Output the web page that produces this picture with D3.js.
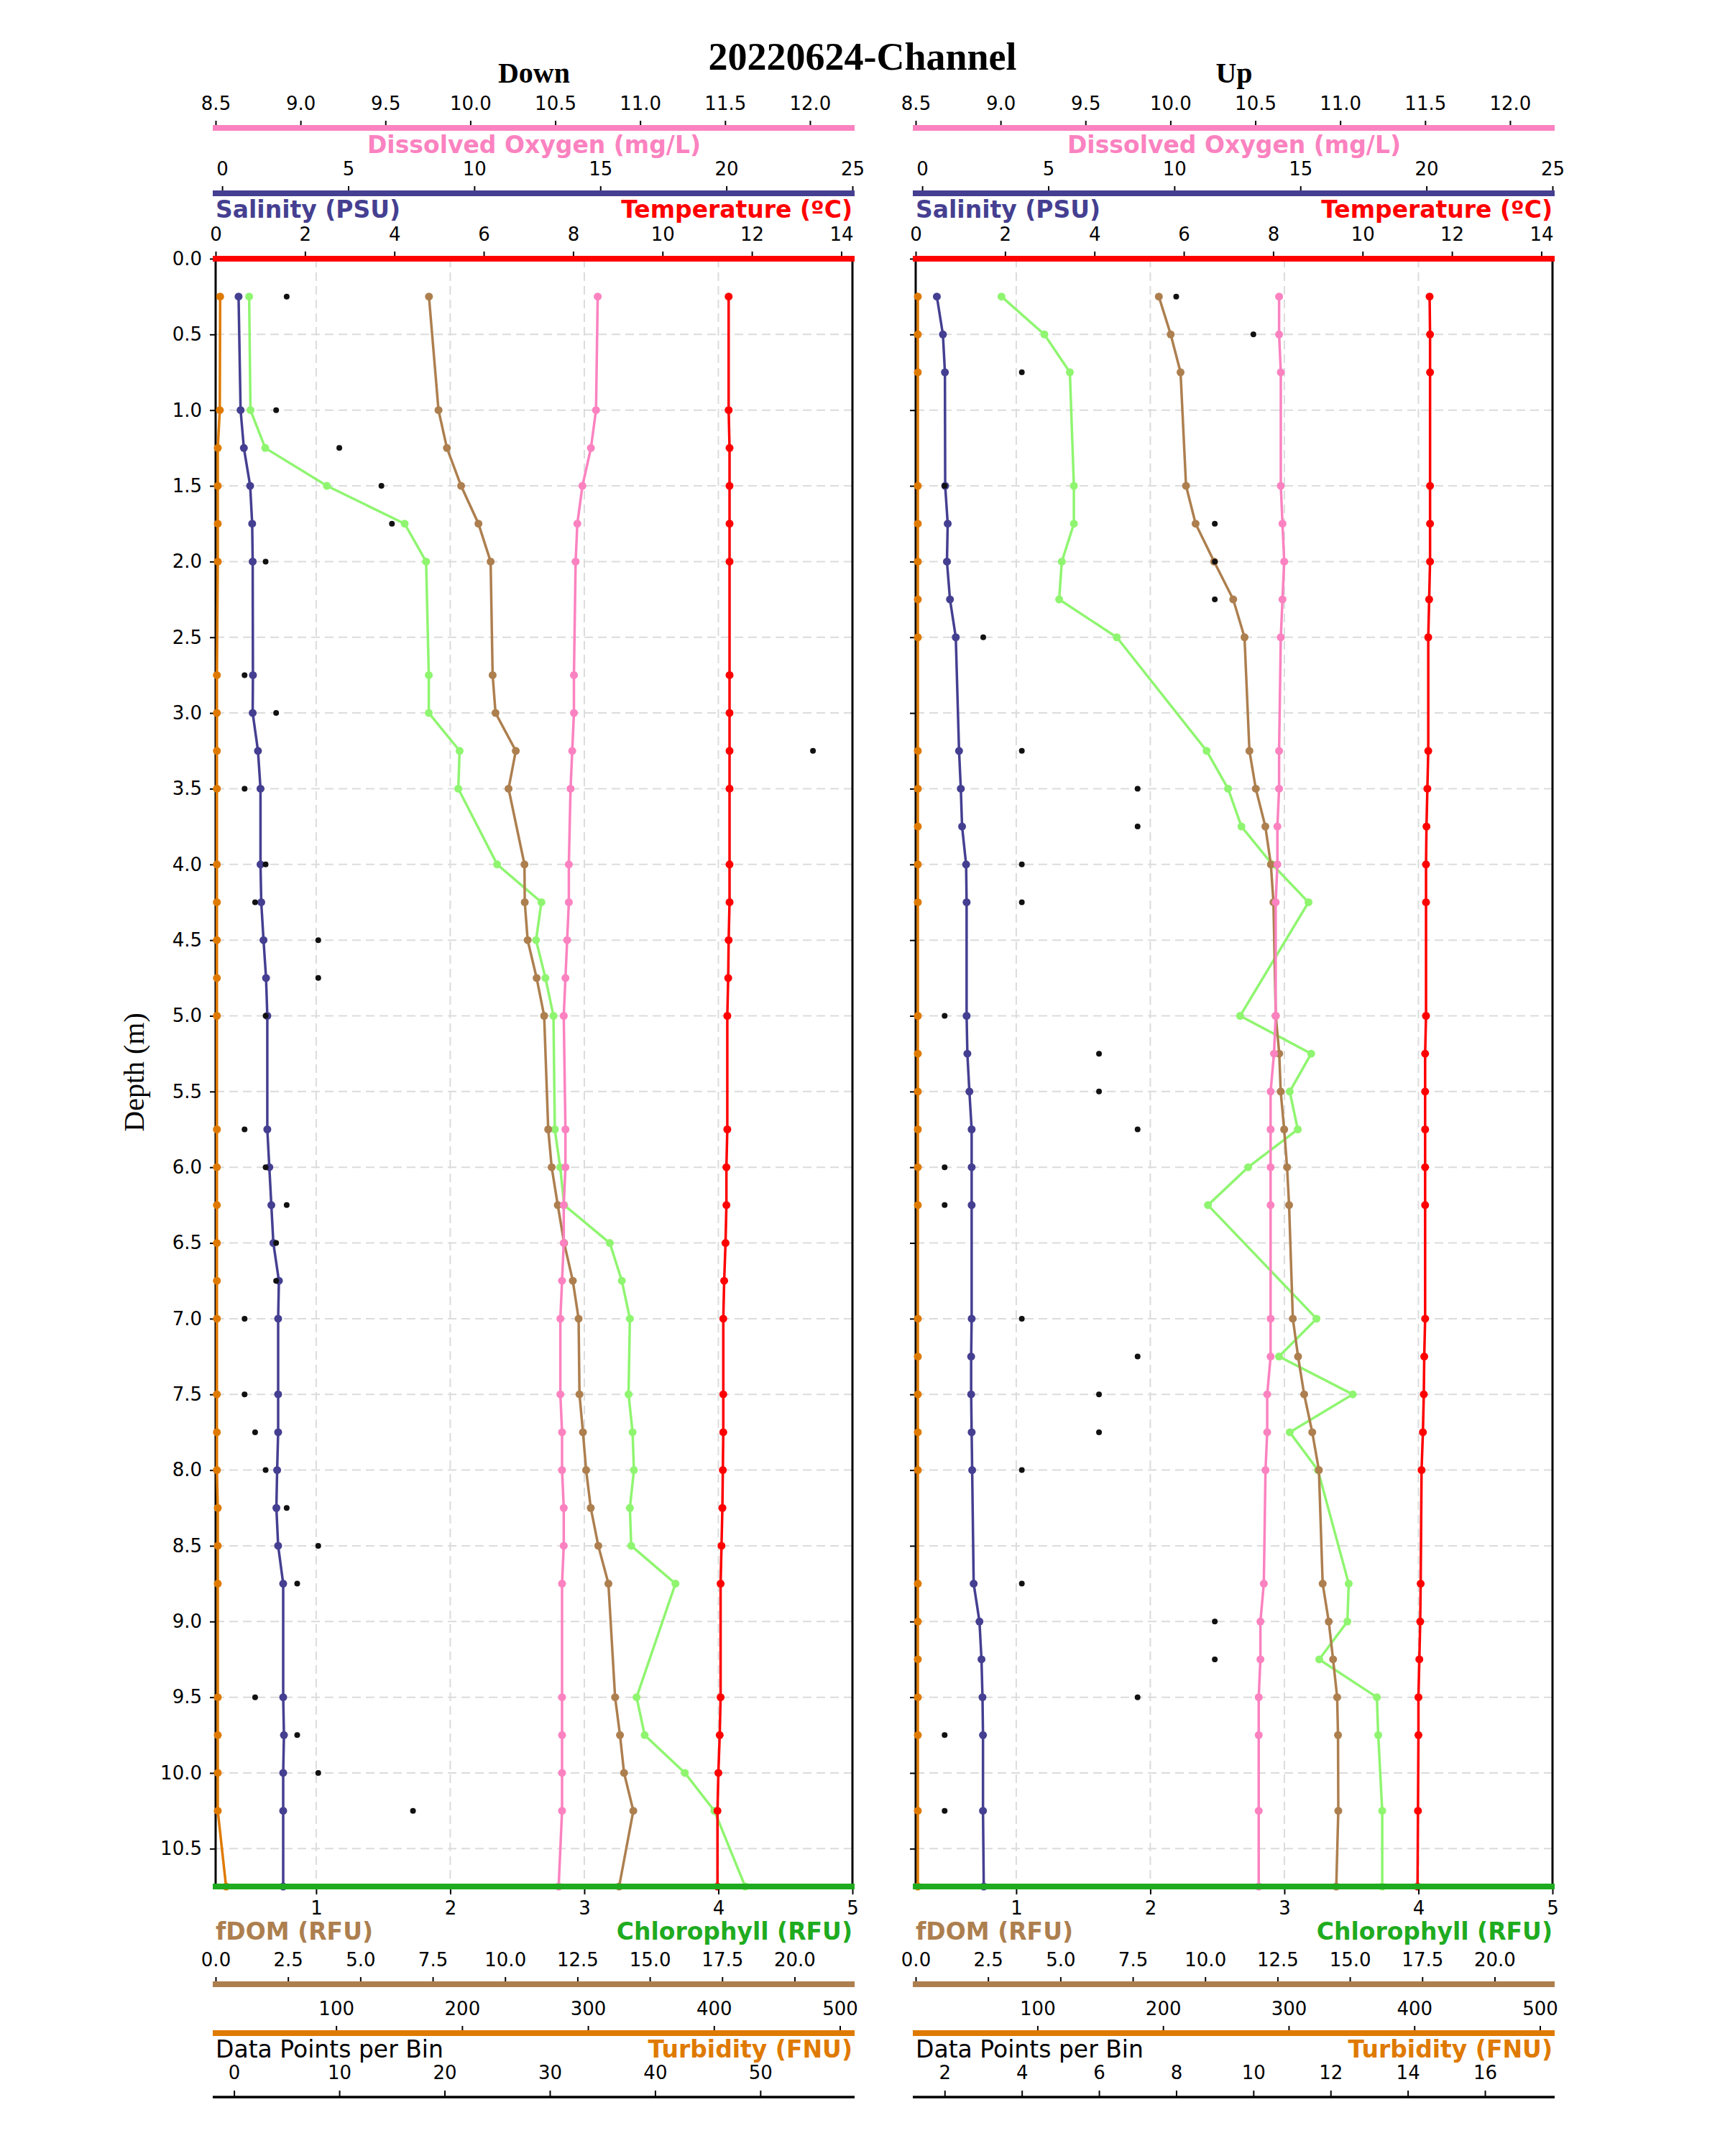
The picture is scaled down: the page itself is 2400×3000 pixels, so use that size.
<!DOCTYPE html>
<html>
<head>
<meta charset="utf-8">
<script src="https://cdn.jsdelivr.net/npm/d3@7"></script>
<style>
  body { margin: 0; background: #fff; }
</style>
</head>
<body>
<div id="wrapper"></div>
<script>
// ---- data: "Down" cast ----
const depthDown = [0.25, 1.0, 1.25, 1.5, 1.75, 2.0, 2.75, 3.0, 3.25, 3.5, 4.0, 4.25, 4.5, 4.75, 5.0, 5.75,
  6.0, 6.25, 6.5, 6.75, 7.0, 7.5, 7.75, 8.0, 8.25, 8.5, 8.75, 9.5, 9.75, 10.0, 10.25, 10.75];
const tempDown = [11.48, 11.48, 11.50, 11.50, 11.50, 11.50, 11.50, 11.50, 11.50, 11.50, 11.50, 11.50, 11.48, 11.47, 11.45, 11.45,
  11.43, 11.43, 11.41, 11.38, 11.36, 11.36, 11.36, 11.35, 11.34, 11.32, 11.30, 11.30, 11.28, 11.25, 11.23, 11.23];
const salDown = [0.65, 0.73, 0.86, 1.11, 1.19, 1.21, 1.22, 1.21, 1.42, 1.52, 1.52, 1.55, 1.64, 1.74, 1.79, 1.79,
  1.87, 1.95, 2.03, 2.25, 2.22, 2.22, 2.22, 2.18, 2.15, 2.22, 2.42, 2.42, 2.45, 2.42, 2.42, 2.42];
const doDown = [10.75, 10.74, 10.71, 10.66, 10.63, 10.62, 10.61, 10.61, 10.60, 10.59, 10.58, 10.58, 10.57, 10.56, 10.55, 10.56,
  10.56, 10.55, 10.55, 10.54, 10.53, 10.53, 10.54, 10.54, 10.55, 10.55, 10.54, 10.54, 10.54, 10.54, 10.54, 10.52];
const fdomDown = [7.37, 7.70, 7.99, 8.48, 9.08, 9.50, 9.57, 9.67, 10.37, 10.12, 10.67, 10.68, 10.78, 11.09, 11.35, 11.49,
  11.61, 11.82, 12.04, 12.34, 12.54, 12.57, 12.69, 12.80, 12.96, 13.22, 13.57, 13.80, 13.97, 14.11, 14.43, 13.94];
const chlDown = [0.50, 0.51, 0.62, 1.08, 1.66, 1.82, 1.84, 1.84, 2.07, 2.06, 2.35, 2.68, 2.64, 2.71, 2.77, 2.78,
  2.82, 2.85, 3.19, 3.28, 3.34, 3.33, 3.36, 3.37, 3.34, 3.35, 3.68, 3.39, 3.45, 3.75, 3.97, 4.20];
const turbDown = [7.9, 7.6, 6.0, 6.0, 6.0, 6.0, 5.3, 5.3, 5.3, 5.3, 5.3, 5.3, 5.3, 5.3, 5.3, 5.3,
  5.3, 5.3, 5.3, 5.3, 5.3, 5.3, 5.3, 5.3, 6.0, 6.0, 6.0, 6.0, 6.0, 6.0, 6.0, 12.6];
const countDown = [5, 4, 10, 14, 15, 3, 1, 4, 55, 1, 3, 2, 8, 8, 3, 1,
  3, 5, 4, 4, 1, 1, 2, 3, 5, 8, 6, 2, 6, 8, 17, 56];

// ---- data: "Up" cast ----
const depthUp = [0.25, 0.5, 0.75, 1.5, 1.75, 2.0, 2.25, 2.5, 3.25, 3.5, 3.75, 4.0, 4.25, 5.0, 5.25, 5.5,
  5.75, 6.0, 6.25, 7.0, 7.25, 7.5, 7.75, 8.0, 8.75, 9.0, 9.25, 9.5, 9.75, 10.25, 10.75];
const tempUp = [11.50, 11.51, 11.51, 11.51, 11.51, 11.51, 11.49, 11.47, 11.47, 11.45, 11.43, 11.42, 11.42, 11.42, 11.40, 11.40,
  11.40, 11.40, 11.40, 11.40, 11.38, 11.37, 11.35, 11.32, 11.30, 11.29, 11.27, 11.25, 11.25, 11.24, 11.23];
const salUp = [0.58, 0.82, 0.90, 0.91, 1.01, 0.98, 1.10, 1.33, 1.46, 1.53, 1.58, 1.74, 1.76, 1.76, 1.79, 1.87,
  1.96, 1.96, 1.96, 1.96, 1.94, 1.94, 1.96, 1.98, 2.04, 2.27, 2.35, 2.39, 2.41, 2.41, 2.44];
const doUp = [10.64, 10.64, 10.65, 10.65, 10.66, 10.67, 10.66, 10.65, 10.64, 10.64, 10.63, 10.63, 10.62, 10.62, 10.61, 10.59,
  10.59, 10.59, 10.59, 10.59, 10.59, 10.57, 10.57, 10.56, 10.55, 10.53, 10.53, 10.52, 10.52, 10.52, 10.52];
const fdomUp = [8.40, 8.81, 9.15, 9.34, 9.67, 10.31, 10.97, 11.36, 11.53, 11.75, 12.08, 12.27, 12.36, 12.44, 12.56, 12.61,
  12.73, 12.83, 12.90, 13.03, 13.21, 13.42, 13.70, 13.93, 14.06, 14.27, 14.42, 14.56, 14.59, 14.60, 14.53];
const chlUp = [0.89, 1.21, 1.40, 1.43, 1.43, 1.34, 1.32, 1.75, 2.42, 2.58, 2.68, 2.91, 3.18, 2.67, 3.20, 3.04,
  3.10, 2.73, 2.43, 3.24, 2.96, 3.51, 3.04, 3.25, 3.48, 3.47, 3.26, 3.69, 3.70, 3.73, 3.73];
const turbUp = [4.8, 4.8, 4.8, 4.8, 4.8, 4.8, 4.8, 4.8, 4.8, 4.8, 4.8, 4.8, 4.8, 4.8, 4.8, 4.8,
  4.8, 4.8, 4.8, 4.8, 4.8, 4.8, 4.8, 4.8, 4.8, 4.8, 4.8, 4.8, 4.8, 4.8, 4.8];
const countUp = [8, 10, 4, 2, 9, 9, 9, 3, 4, 7, 7, 4, 4, 2, 6, 6,
  7, 2, 2, 4, 7, 6, 6, 4, 4, 9, 9, 7, 2, 2, 17];

// axis limits and ticks
const depthTicks = d3.range(0, 10.51, 0.5);
const doTicks = d3.range(8.5, 12.01, 0.5);
const fdomTicks = d3.range(0, 20.01, 2.5);

const colors = {
  do: "#fb82c0", sal: "#453f91", temp: "#ff0000", fdom: "#ad7f4f",
  chl: "#8ff570", chlAxis: "#1fab1f", turb: "#df7a00", count: "#111111"
};

const font = "DejaVu Sans";
const serif = "Liberation Serif";

const plotTop = 360, plotBottom = 2625;

const wrapper = d3.select("#wrapper")
  .append("svg")
  .attr("width", 2400)
  .attr("height", 3000)
  .style("background", "#fff");

// title
wrapper.append("text")
  .attr("x", 1200).attr("y", 97)
  .attr("text-anchor", "middle")
  .attr("font-family", serif).attr("font-weight", "bold").attr("font-size", 54)
  .text("20220624-Channel");

wrapper.append("text")
  .attr("transform", "translate(186,1492) rotate(-90)")
  .attr("text-anchor", "middle").attr("dominant-baseline", "central")
  .attr("font-family", serif).attr("font-size", 40)
  .text("Depth (m)");

const yScale = d3.scaleLinear().domain([0, 10.75]).range([plotTop, plotBottom]);

const panels = [
  { name: "Down", x0: 300, x1: 1186, depth: depthDown, temp: tempDown, sal: salDown, dox: doDown,
    fdom: fdomDown, chl: chlDown, turb: turbDown, count: countDown, turbLim: [4.3, 510], yLabels: true },
  { name: "Up", x0: 1274, x1: 2160, depth: depthUp, temp: tempUp, sal: salUp, dox: doUp,
    fdom: fdomUp, chl: chlUp, turb: turbUp, count: countUp, turbLim: [3.1, 510], yLabels: false }
];

// axis line with ticks above it, labels on top
const topAxis = (p, scale, y, color, lineW, ticks, fmt, tickLen, pad) => {
  const gen = d3.axisTop(scale).tickSize(tickLen).tickPadding(pad).tickFormat(d3.format(fmt));
  if (Array.isArray(ticks)) gen.tickValues(ticks); else gen.ticks(ticks);
  const g = wrapper.append("g").attr("transform", `translate(0,${y})`).call(gen);
  g.select(".domain").remove();
  g.selectAll(".tick line").attr("stroke", "#000").attr("stroke-width", 2);
  g.selectAll(".tick text").attr("font-family", font).attr("font-size", 26).attr("fill", "#000");
  g.append("line")
    .attr("x1", p.x0 - 4).attr("x2", p.x1 + 3)
    .attr("stroke", color).attr("stroke-width", lineW);
};

const label = (x, y, anchor, color, txt, bold = true) => {
  wrapper.append("text")
    .attr("x", x).attr("y", y)
    .attr("text-anchor", anchor)
    .attr("font-family", font).attr("font-size", 33)
    .attr("font-weight", bold ? "bold" : "normal")
    .attr("fill", color)
    .text(txt);
};

panels.forEach((p) => {
  const range = [p.x0, p.x1];
  const mid = (p.x0 + p.x1) / 2;

  const xTemp = d3.scaleLinear().domain([0, 14.25]).range(range);
  const xSal = d3.scaleLinear().domain([-0.26, 25.0]).range(range);
  const xDo = d3.scaleLinear().domain([8.5, 12.25]).range(range);
  const xChl = d3.scaleLinear().domain([0.25, 5.0]).range(range);
  const xFdom = d3.scaleLinear().domain([0, 22.0]).range(range);
  const xTurb = d3.scaleLinear().domain(p.turbLim).range(range);
  const cExt = d3.extent(p.count);
  const cPad = (cExt[1] - cExt[0]) * 0.05;
  const xCount = d3.scaleLinear().domain([cExt[0] - cPad, cExt[1] + cPad]).range(range);

  // panel title
  wrapper.append("text")
    .attr("x", mid).attr("y", 115)
    .attr("text-anchor", "middle")
    .attr("font-family", serif).attr("font-weight", "bold").attr("font-size", 40)
    .text(p.name);

  // grid
  const grid = wrapper.append("g")
    .attr("stroke", "#dcdcdc").attr("stroke-width", 2).attr("stroke-dasharray", "12,7");
  grid.selectAll(".gx").data([1, 2, 3, 4]).join("line")
    .attr("x1", (d) => xChl(d)).attr("x2", (d) => xChl(d))
    .attr("y1", plotTop).attr("y2", plotBottom);
  grid.selectAll(".gy").data(depthTicks.filter((d) => d > 0)).join("line")
    .attr("x1", p.x0).attr("x2", p.x1)
    .attr("y1", (d) => yScale(d)).attr("y2", (d) => yScale(d));

  // y axis
  const yAxisGen = d3.axisLeft(yScale).tickValues(depthTicks).tickSize(8).tickPadding(11)
    .tickFormat(p.yLabels ? d3.format(".1f") : () => "");
  const yAxis = wrapper.append("g").attr("transform", `translate(${p.x0},0)`).call(yAxisGen);
  yAxis.select(".domain").remove();
  yAxis.selectAll(".tick line").attr("stroke", "#000").attr("stroke-width", 2);
  yAxis.selectAll(".tick text").attr("font-family", font).attr("font-size", 26).attr("fill", "#000");

  // side spines
  wrapper.append("line").attr("x1", p.x0).attr("x2", p.x0).attr("y1", plotTop).attr("y2", plotBottom)
    .attr("stroke", "#000").attr("stroke-width", 3);
  wrapper.append("line").attr("x1", p.x1).attr("x2", p.x1).attr("y1", plotTop).attr("y2", plotBottom)
    .attr("stroke", "#000").attr("stroke-width", 3);

  // series
  const series = [
    { vals: p.turb, x: xTurb, color: colors.turb },
    { vals: p.chl, x: xChl, color: colors.chl },
    { vals: p.fdom, x: xFdom, color: colors.fdom },
    { vals: p.dox, x: xDo, color: colors.do },
    { vals: p.sal, x: xSal, color: colors.sal },
    { vals: p.temp, x: xTemp, color: colors.temp }
  ];

  series.forEach((s) => {
    const rows = p.depth.map((d, i) => ({ depth: d, v: s.vals[i] }));
    const lineGen = d3.line().x((d) => s.x(d.v)).y((d) => yScale(d.depth));
    const g = wrapper.append("g");
    g.append("path")
      .attr("d", lineGen(rows))
      .attr("fill", "none").attr("stroke", s.color).attr("stroke-width", 3.5);
    g.selectAll("circle").data(rows).join("circle")
      .attr("cx", (d) => s.x(d.v)).attr("cy", (d) => yScale(d.depth))
      .attr("r", 5.5).attr("fill", s.color);
  });

  // data points per bin
  wrapper.append("g").selectAll("circle")
    .data(p.depth.map((d, i) => ({ depth: d, v: p.count[i] })))
    .join("circle")
    .attr("cx", (d) => xCount(d.v)).attr("cy", (d) => yScale(d.depth))
    .attr("r", 4).attr("fill", colors.count);

  // top axes
  topAxis(p, xDo, 178, colors.do, 8, doTicks, ".1f", 10, 15);
  topAxis(p, xSal, 269, colors.sal, 8, 5, "d", 10, 15);
  topAxis(p, xTemp, plotTop, colors.temp, 8, 7, "d", 10, 15);

  label(mid, 213, "middle", colors.do, "Dissolved Oxygen (mg/L)");
  label(p.x0, 303, "start", colors.sal, "Salinity (PSU)");
  label(p.x1, 303, "end", colors.temp, "Temperature (ºC)");

  // chlorophyll on the bottom spine
  const chlGen = d3.axisBottom(xChl).ticks(5).tickSize(11).tickPadding(10).tickFormat(d3.format("d"));
  const chlAxis = wrapper.append("g").attr("transform", `translate(0,${plotBottom})`).call(chlGen);
  chlAxis.select(".domain").remove();
  chlAxis.selectAll(".tick line").attr("stroke", "#000").attr("stroke-width", 2);
  chlAxis.selectAll(".tick text").attr("font-family", font).attr("font-size", 26).attr("fill", "#000");
  chlAxis.append("line")
    .attr("x1", p.x0 - 4).attr("x2", p.x1 + 3)
    .attr("stroke", colors.chlAxis).attr("stroke-width", 8);

  label(p.x0, 2699, "start", colors.fdom, "fDOM (RFU)");
  label(p.x1, 2699, "end", colors.chlAxis, "Chlorophyll (RFU)");

  topAxis(p, xFdom, 2761, colors.fdom, 8, fdomTicks, ".1f", 10, 15);
  topAxis(p, xTurb, 2829, colors.turb, 8, 5, "d", 10, 15);

  label(p.x0, 2863, "start", "#000", "Data Points per Bin", false);
  label(p.x1, 2863, "end", colors.turb, "Turbidity (FNU)");

  topAxis(p, xCount, 2918, "#000", 3.5, p.name === "Down" ? 6 : 8, "d", 9, 16);
});
</script>
</body>
</html>
